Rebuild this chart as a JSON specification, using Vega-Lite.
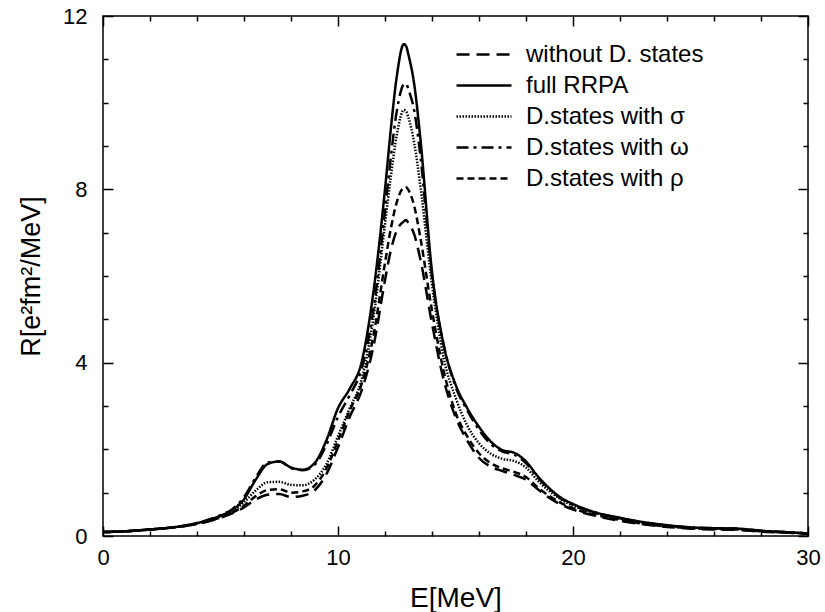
{
"$schema": "https://vega.github.io/schema/vega-lite/v6.json",
"width": 705, "height": 520,
"autosize": {"type": "none"},
"padding": {"left": 103, "top": 16, "right": 17, "bottom": 76},
"background": "white",
"config": {"font": "Liberation Sans", "view": {"stroke": "black", "strokeWidth": 1.5}},
"data": {"values": [
{"s":"full RRPA","x":0,"y":0.09},{"s":"full RRPA","x":1,"y":0.11},{"s":"full RRPA","x":2,"y":0.15},{"s":"full RRPA","x":3,"y":0.2},{"s":"full RRPA","x":4,"y":0.3},{"s":"full RRPA","x":5,"y":0.47},{"s":"full RRPA","x":5.5,"y":0.6},{"s":"full RRPA","x":6,"y":0.85},{"s":"full RRPA","x":6.5,"y":1.3},{"s":"full RRPA","x":7,"y":1.66},{"s":"full RRPA","x":7.5,"y":1.72},{"s":"full RRPA","x":8,"y":1.58},{"s":"full RRPA","x":8.5,"y":1.53},{"s":"full RRPA","x":9,"y":1.68},{"s":"full RRPA","x":9.5,"y":2.2},{"s":"full RRPA","x":10,"y":2.95},{"s":"full RRPA","x":10.5,"y":3.4},{"s":"full RRPA","x":11,"y":4.0},{"s":"full RRPA","x":11.5,"y":5.6},{"s":"full RRPA","x":12,"y":8.0},{"s":"full RRPA","x":12.25,"y":9.4},{"s":"full RRPA","x":12.5,"y":10.6},{"s":"full RRPA","x":12.8,"y":11.35},{"s":"full RRPA","x":12.9,"y":11.3},{"s":"full RRPA","x":13,"y":11.1},{"s":"full RRPA","x":13.25,"y":10.4},{"s":"full RRPA","x":13.5,"y":9.2},{"s":"full RRPA","x":14,"y":6.1},{"s":"full RRPA","x":14.5,"y":4.4},{"s":"full RRPA","x":15,"y":3.5},{"s":"full RRPA","x":15.5,"y":2.95},{"s":"full RRPA","x":16,"y":2.52},{"s":"full RRPA","x":16.5,"y":2.18},{"s":"full RRPA","x":17,"y":1.98},{"s":"full RRPA","x":17.5,"y":1.92},{"s":"full RRPA","x":18,"y":1.72},{"s":"full RRPA","x":18.5,"y":1.38},{"s":"full RRPA","x":19,"y":1.1},{"s":"full RRPA","x":19.5,"y":0.88},{"s":"full RRPA","x":20,"y":0.74},{"s":"full RRPA","x":21,"y":0.54},{"s":"full RRPA","x":22,"y":0.42},{"s":"full RRPA","x":23,"y":0.32},{"s":"full RRPA","x":24,"y":0.25},{"s":"full RRPA","x":25,"y":0.2},{"s":"full RRPA","x":26,"y":0.18},{"s":"full RRPA","x":27,"y":0.17},{"s":"full RRPA","x":28,"y":0.12},{"s":"full RRPA","x":29,"y":0.09},{"s":"full RRPA","x":30,"y":0.06},
{"s":"D.states with ω","x":0,"y":0.09},{"s":"D.states with ω","x":1,"y":0.11},{"s":"D.states with ω","x":2,"y":0.15},{"s":"D.states with ω","x":3,"y":0.2},{"s":"D.states with ω","x":4,"y":0.3},{"s":"D.states with ω","x":5,"y":0.48},{"s":"D.states with ω","x":5.5,"y":0.62},{"s":"D.states with ω","x":6,"y":0.9},{"s":"D.states with ω","x":6.5,"y":1.35},{"s":"D.states with ω","x":7,"y":1.7},{"s":"D.states with ω","x":7.5,"y":1.72},{"s":"D.states with ω","x":8,"y":1.57},{"s":"D.states with ω","x":8.5,"y":1.52},{"s":"D.states with ω","x":9,"y":1.64},{"s":"D.states with ω","x":9.5,"y":2.1},{"s":"D.states with ω","x":10,"y":2.75},{"s":"D.states with ω","x":10.5,"y":3.25},{"s":"D.states with ω","x":11,"y":3.85},{"s":"D.states with ω","x":11.5,"y":5.2},{"s":"D.states with ω","x":12,"y":7.5},{"s":"D.states with ω","x":12.25,"y":8.75},{"s":"D.states with ω","x":12.5,"y":9.8},{"s":"D.states with ω","x":12.8,"y":10.42},{"s":"D.states with ω","x":12.9,"y":10.44},{"s":"D.states with ω","x":13,"y":10.3},{"s":"D.states with ω","x":13.25,"y":9.8},{"s":"D.states with ω","x":13.5,"y":8.8},{"s":"D.states with ω","x":14,"y":6.0},{"s":"D.states with ω","x":14.5,"y":4.4},{"s":"D.states with ω","x":15,"y":3.45},{"s":"D.states with ω","x":15.5,"y":2.9},{"s":"D.states with ω","x":16,"y":2.45},{"s":"D.states with ω","x":16.5,"y":2.12},{"s":"D.states with ω","x":17,"y":1.95},{"s":"D.states with ω","x":17.5,"y":1.88},{"s":"D.states with ω","x":18,"y":1.68},{"s":"D.states with ω","x":18.5,"y":1.35},{"s":"D.states with ω","x":19,"y":1.08},{"s":"D.states with ω","x":19.5,"y":0.86},{"s":"D.states with ω","x":20,"y":0.72},{"s":"D.states with ω","x":21,"y":0.53},{"s":"D.states with ω","x":22,"y":0.41},{"s":"D.states with ω","x":23,"y":0.31},{"s":"D.states with ω","x":24,"y":0.24},{"s":"D.states with ω","x":25,"y":0.2},{"s":"D.states with ω","x":26,"y":0.18},{"s":"D.states with ω","x":27,"y":0.17},{"s":"D.states with ω","x":28,"y":0.12},{"s":"D.states with ω","x":29,"y":0.09},{"s":"D.states with ω","x":30,"y":0.06},
{"s":"D.states with σ","x":0,"y":0.09},{"s":"D.states with σ","x":1,"y":0.11},{"s":"D.states with σ","x":2,"y":0.15},{"s":"D.states with σ","x":3,"y":0.2},{"s":"D.states with σ","x":4,"y":0.29},{"s":"D.states with σ","x":5,"y":0.45},{"s":"D.states with σ","x":5.5,"y":0.57},{"s":"D.states with σ","x":6,"y":0.78},{"s":"D.states with σ","x":6.5,"y":1.05},{"s":"D.states with σ","x":7,"y":1.24},{"s":"D.states with σ","x":7.5,"y":1.25},{"s":"D.states with σ","x":8,"y":1.18},{"s":"D.states with σ","x":8.5,"y":1.17},{"s":"D.states with σ","x":9,"y":1.3},{"s":"D.states with σ","x":9.5,"y":1.65},{"s":"D.states with σ","x":10,"y":2.3},{"s":"D.states with σ","x":10.5,"y":2.95},{"s":"D.states with σ","x":11,"y":3.6},{"s":"D.states with σ","x":11.5,"y":5.0},{"s":"D.states with σ","x":12,"y":7.2},{"s":"D.states with σ","x":12.25,"y":8.3},{"s":"D.states with σ","x":12.5,"y":9.25},{"s":"D.states with σ","x":12.8,"y":9.83},{"s":"D.states with σ","x":12.9,"y":9.8},{"s":"D.states with σ","x":13,"y":9.65},{"s":"D.states with σ","x":13.25,"y":9.05},{"s":"D.states with σ","x":13.5,"y":8.1},{"s":"D.states with σ","x":14,"y":5.8},{"s":"D.states with σ","x":14.5,"y":4.1},{"s":"D.states with σ","x":15,"y":3.2},{"s":"D.states with σ","x":15.5,"y":2.55},{"s":"D.states with σ","x":16,"y":2.14},{"s":"D.states with σ","x":16.5,"y":1.9},{"s":"D.states with σ","x":17,"y":1.78},{"s":"D.states with σ","x":17.5,"y":1.73},{"s":"D.states with σ","x":18,"y":1.58},{"s":"D.states with σ","x":18.5,"y":1.28},{"s":"D.states with σ","x":19,"y":1.03},{"s":"D.states with σ","x":19.5,"y":0.84},{"s":"D.states with σ","x":20,"y":0.7},{"s":"D.states with σ","x":21,"y":0.52},{"s":"D.states with σ","x":22,"y":0.4},{"s":"D.states with σ","x":23,"y":0.3},{"s":"D.states with σ","x":24,"y":0.24},{"s":"D.states with σ","x":25,"y":0.19},{"s":"D.states with σ","x":26,"y":0.17},{"s":"D.states with σ","x":27,"y":0.16},{"s":"D.states with σ","x":28,"y":0.12},{"s":"D.states with σ","x":29,"y":0.09},{"s":"D.states with σ","x":30,"y":0.06},
{"s":"D.states with ρ","x":0,"y":0.09},{"s":"D.states with ρ","x":1,"y":0.11},{"s":"D.states with ρ","x":2,"y":0.15},{"s":"D.states with ρ","x":3,"y":0.2},{"s":"D.states with ρ","x":4,"y":0.28},{"s":"D.states with ρ","x":5,"y":0.43},{"s":"D.states with ρ","x":5.5,"y":0.54},{"s":"D.states with ρ","x":6,"y":0.7},{"s":"D.states with ρ","x":6.5,"y":0.92},{"s":"D.states with ρ","x":7,"y":1.06},{"s":"D.states with ρ","x":7.5,"y":1.08},{"s":"D.states with ρ","x":8,"y":1.0},{"s":"D.states with ρ","x":8.5,"y":1.03},{"s":"D.states with ρ","x":9,"y":1.16},{"s":"D.states with ρ","x":9.5,"y":1.55},{"s":"D.states with ρ","x":10,"y":2.2},{"s":"D.states with ρ","x":10.5,"y":2.9},{"s":"D.states with ρ","x":11,"y":3.5},{"s":"D.states with ρ","x":11.5,"y":4.6},{"s":"D.states with ρ","x":12,"y":6.3},{"s":"D.states with ρ","x":12.25,"y":7.1},{"s":"D.states with ρ","x":12.5,"y":7.7},{"s":"D.states with ρ","x":12.8,"y":8.04},{"s":"D.states with ρ","x":12.9,"y":8.05},{"s":"D.states with ρ","x":13,"y":7.98},{"s":"D.states with ρ","x":13.25,"y":7.6},{"s":"D.states with ρ","x":13.5,"y":6.9},{"s":"D.states with ρ","x":14,"y":5.2},{"s":"D.states with ρ","x":14.5,"y":3.8},{"s":"D.states with ρ","x":15,"y":2.85},{"s":"D.states with ρ","x":15.5,"y":2.3},{"s":"D.states with ρ","x":16,"y":1.91},{"s":"D.states with ρ","x":16.5,"y":1.68},{"s":"D.states with ρ","x":17,"y":1.56},{"s":"D.states with ρ","x":17.5,"y":1.48},{"s":"D.states with ρ","x":18,"y":1.36},{"s":"D.states with ρ","x":18.5,"y":1.12},{"s":"D.states with ρ","x":19,"y":0.92},{"s":"D.states with ρ","x":19.5,"y":0.76},{"s":"D.states with ρ","x":20,"y":0.64},{"s":"D.states with ρ","x":21,"y":0.48},{"s":"D.states with ρ","x":22,"y":0.37},{"s":"D.states with ρ","x":23,"y":0.28},{"s":"D.states with ρ","x":24,"y":0.22},{"s":"D.states with ρ","x":25,"y":0.18},{"s":"D.states with ρ","x":26,"y":0.16},{"s":"D.states with ρ","x":27,"y":0.15},{"s":"D.states with ρ","x":28,"y":0.11},{"s":"D.states with ρ","x":29,"y":0.08},{"s":"D.states with ρ","x":30,"y":0.06},
{"s":"without D. states","x":0,"y":0.09},{"s":"without D. states","x":1,"y":0.11},{"s":"without D. states","x":2,"y":0.15},{"s":"without D. states","x":3,"y":0.2},{"s":"without D. states","x":4,"y":0.28},{"s":"without D. states","x":5,"y":0.42},{"s":"without D. states","x":5.5,"y":0.52},{"s":"without D. states","x":6,"y":0.66},{"s":"without D. states","x":6.5,"y":0.84},{"s":"without D. states","x":7,"y":0.95},{"s":"without D. states","x":7.5,"y":0.97},{"s":"without D. states","x":8,"y":0.9},{"s":"without D. states","x":8.5,"y":0.93},{"s":"without D. states","x":9,"y":1.05},{"s":"without D. states","x":9.5,"y":1.42},{"s":"without D. states","x":10,"y":2.05},{"s":"without D. states","x":10.5,"y":2.75},{"s":"without D. states","x":11,"y":3.35},{"s":"without D. states","x":11.5,"y":4.35},{"s":"without D. states","x":12,"y":5.9},{"s":"without D. states","x":12.25,"y":6.6},{"s":"without D. states","x":12.5,"y":7.05},{"s":"without D. states","x":12.8,"y":7.26},{"s":"without D. states","x":12.9,"y":7.29},{"s":"without D. states","x":13,"y":7.22},{"s":"without D. states","x":13.25,"y":6.95},{"s":"without D. states","x":13.5,"y":6.4},{"s":"without D. states","x":14,"y":4.9},{"s":"without D. states","x":14.5,"y":3.6},{"s":"without D. states","x":15,"y":2.75},{"s":"without D. states","x":15.5,"y":2.2},{"s":"without D. states","x":16,"y":1.8},{"s":"without D. states","x":16.5,"y":1.6},{"s":"without D. states","x":17,"y":1.5},{"s":"without D. states","x":17.5,"y":1.41},{"s":"without D. states","x":18,"y":1.3},{"s":"without D. states","x":18.5,"y":1.08},{"s":"without D. states","x":19,"y":0.88},{"s":"without D. states","x":19.5,"y":0.72},{"s":"without D. states","x":20,"y":0.61},{"s":"without D. states","x":21,"y":0.46},{"s":"without D. states","x":22,"y":0.35},{"s":"without D. states","x":23,"y":0.27},{"s":"without D. states","x":24,"y":0.21},{"s":"without D. states","x":25,"y":0.17},{"s":"without D. states","x":26,"y":0.15},{"s":"without D. states","x":27,"y":0.14},{"s":"without D. states","x":28,"y":0.1},{"s":"without D. states","x":29,"y":0.08},{"s":"without D. states","x":30,"y":0.05}
]},
"layer": [
{
"mark": {"type": "line", "interpolate": "monotone", "color": "black"},
"encoding": {
"x": {"field": "x", "type": "quantitative", "scale": {"domain": [0, 30], "nice": false},
 "axis": {"orient": "bottom", "values": [0,2,4,6,8,10,12,14,16,18,20,22,24,26,28,30], "labelExpr": "datum.value % 10 === 0 ? datum.label : ''", "tickSize": {"condition": {"test": "datum.value % 10 === 0", "value": -10}, "value": -5}, "tickColor": "black", "tickWidth": 1.5, "domain": false, "grid": false, "labelFontSize": 22, "labelColor": "black", "labelPadding": 21, "labelFlush": false, "labelOverlap": false, "title": "E[MeV]", "titleFontSize": 28, "titleFontWeight": "normal", "titleColor": "black", "titlePadding": 11}},
"y": {"field": "y", "type": "quantitative", "scale": {"domain": [0, 12], "nice": false},
 "axis": {"orient": "left", "values": [0,1,2,3,4,5,6,7,8,9,10,11,12], "labelExpr": "datum.value % 4 === 0 ? datum.label : ''", "tickSize": {"condition": {"test": "datum.value % 4 === 0", "value": -10}, "value": -5}, "tickColor": "black", "tickWidth": 1.5, "domain": false, "grid": false, "labelFontSize": 22, "labelColor": "black", "labelPadding": 26, "labelFlush": false, "labelOverlap": false, "title": "R[e²fm²/MeV]", "titleFontSize": 27, "titleFontWeight": "normal", "titleColor": "black", "titlePadding": 17}},
"strokeDash": {"field": "s", "type": "nominal",
 "scale": {"domain": ["without D. states", "full RRPA", "D.states with σ", "D.states with ω", "D.states with ρ"], "range": [[13, 7], [1, 0], [1.5, 1.5], [12, 5, 3, 5], [7, 4]]},
 "legend": {"orient": "none", "legendX": 368.5, "legendY": 26, "title": null, "labelFontSize": 24, "labelColor": "black", "symbolType": "M-2.5,0H2.5", "symbolSize": 484, "symbolStrokeColor": "black", "labelOffset": 29.5, "rowPadding": 6, "padding": 0, "labelLimit": 400}},
"strokeWidth": {"field": "s", "type": "nominal",
 "scale": {"domain": ["without D. states", "full RRPA", "D.states with σ", "D.states with ω", "D.states with ρ"], "range": [2.5, 2.5, 1.1, 2.5, 2.5]},
 "legend": {"orient": "none", "legendX": 368.5, "legendY": 26, "title": null, "labelFontSize": 24, "labelColor": "black", "symbolType": "M-2.5,0H2.5", "symbolSize": 484, "symbolStrokeColor": "black", "labelOffset": 29.5, "rowPadding": 6, "padding": 0, "labelLimit": 400}}
}
},
{
"mark": {"type": "point", "opacity": 0},
"encoding": {
"x": {"field": "x", "type": "quantitative", "scale": {"domain": [0, 30], "nice": false},
 "axis": {"orient": "top", "values": [0,2,4,6,8,10,12,14,16,18,20,22,24,26,28,30], "labels": false, "tickSize": {"condition": {"test": "datum.value % 10 === 0", "value": -10}, "value": -5}, "tickColor": "black", "tickWidth": 1.5, "domain": false, "grid": false, "title": null}},
"y": {"field": "y", "type": "quantitative", "scale": {"domain": [0, 12], "nice": false},
 "axis": {"orient": "right", "values": [0,1,2,3,4,5,6,7,8,9,10,11,12], "labels": false, "tickSize": {"condition": {"test": "datum.value % 4 === 0", "value": -10}, "value": -5}, "tickColor": "black", "tickWidth": 1.5, "domain": false, "grid": false, "title": null}}
}
}
],
"resolve": {"axis": {"x": "independent", "y": "independent"}}
}
